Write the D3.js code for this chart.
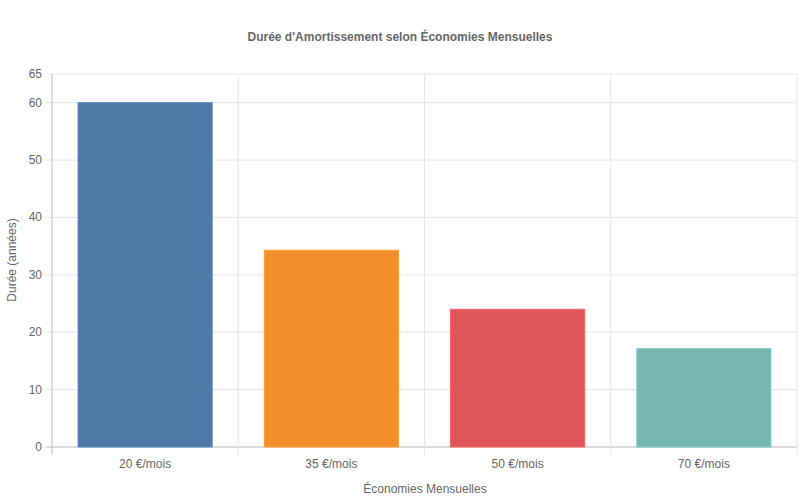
<!DOCTYPE html>
<html><head><meta charset="utf-8">
<script src="https://cdn.jsdelivr.net/npm/d3@7"></script>
<style>body{margin:0;background:#fff}text{font-family:"Liberation Sans",Arial,sans-serif}</style>
</head><body><svg id="c" width="800" height="500"></svg>
<script>
const categories=["20 €/mois","35 €/mois","50 €/mois","70 €/mois"];
const values=[60,34.29,24,17.14];
const colors=["#4e79a7","#f28e2b","#e15759","#76b7b2"];
const yTicks=[0,10,20,30,40,50,60,65];
const svg=d3.select("#c");
const m={l:52,r:797,t:74,b:447};
const x=d3.scaleBand().domain(categories).range([m.l,m.r]).paddingInner(0.28).paddingOuter(0.14);
const y=d3.scaleLinear().domain([0,65]).range([m.b,m.t]);
const step=(m.r-m.l)/categories.length;
const g=svg.append("g");
yTicks.forEach(t=>{g.append("line").attr("x1",m.l-6).attr("x2",m.r).attr("y1",y(t)).attr("y2",y(t)).attr("stroke",t===0?"#bbb":"#e5e5e5");
 g.append("text").attr("x",m.l-10).attr("y",y(t)+4).attr("text-anchor","end").attr("font-size",12).attr("fill","#666").text(t);});
for(let i=0;i<=categories.length;i++){const xx=m.l+i*step;
 g.append("line").attr("x1",xx).attr("x2",xx).attr("y1",m.t).attr("y2",m.b+8).attr("stroke",i===0?"#bbb":"#e5e5e5");}
svg.selectAll("rect.b").data(values).join("rect").attr("x",(d,i)=>x(categories[i])).attr("width",x.bandwidth())
 .attr("y",d=>y(d)).attr("height",d=>m.b-y(d)).attr("fill",(d,i)=>colors[i]).attr("stroke",(d,i)=>d3.color(colors[i]).brighter(0.3)).attr("stroke-width",1);
categories.forEach(c=>svg.append("text").attr("x",x(c)+x.bandwidth()/2).attr("y",468).attr("text-anchor","middle").attr("font-size",12).attr("fill","#666").text(c));
svg.append("text").attr("x",400).attr("y",41).attr("text-anchor","middle").attr("font-size",12).attr("font-weight","bold").attr("fill","#666").text("Durée d'Amortissement selon Économies Mensuelles");
svg.append("text").attr("x",425).attr("y",493).attr("text-anchor","middle").attr("font-size",12).attr("fill","#666").text("Économies Mensuelles");
svg.append("text").attr("transform","translate(16,260) rotate(-90)").attr("text-anchor","middle").attr("font-size",12).attr("fill","#666").text("Durée (années)");
</script></body></html>
